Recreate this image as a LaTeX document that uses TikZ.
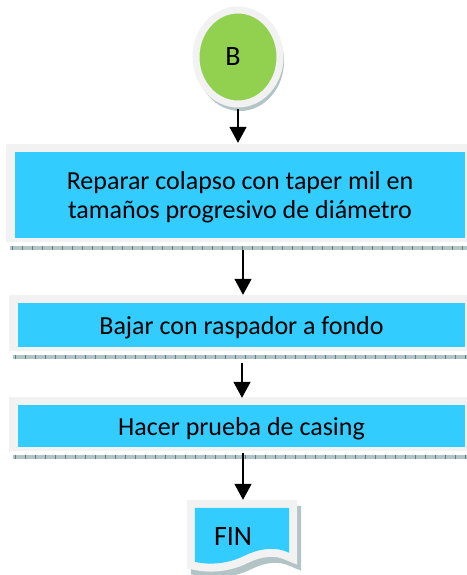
\documentclass[tikz,border=0pt]{standalone}
\usepackage{fontspec}
\setmainfont{Carlito}
\usepackage{tikz}
\usetikzlibrary{positioning}
\usetikzlibrary{arrows.meta,shapes}
\usetikzlibrary{calc,backgrounds}

\definecolor{azul}{RGB}{51,204,255}
\definecolor{verde}{RGB}{146,208,80}
\definecolor{grisclaro}{RGB}{242,242,242}
\definecolor{tramado}{RGB}{178,196,198}

\begin{document}
\begin{tikzpicture}[x=1pt,y=-1pt, auto,
    paso/.style={fill=azul, inner sep=0pt, align=center, text depth=0pt, font=\fontsize{26}{29}\selectfont},
    inicio/.style={ellipse, fill=verde, draw=grisclaro, line width=7pt, minimum width=84, minimum height=94, inner sep=0pt, font=\fontsize{28}{29}\selectfont},
    hoja/.style={inner sep=0pt, minimum width=94, minimum height=58, text depth=0pt, font=\fontsize{28}{29}\selectfont},
    marco/.style={fill=grisclaro},
    sombra/.style={fill=tramado},
    raya/.style={draw=gray!70!teal, line width=0.5pt},
    flecha/.style={-{Triangle[width=17pt,length=16pt]}, line width=1.5pt}]

 \useasboundingbox (0,0) rectangle (466,575);

	%start
 \node[inicio] (B) at (238,57) {\hspace*{-10pt}B};

	%steps
    \foreach \x/\y/\w/\h/\name/\txt in {240/195/450/86/b1/{Reparar colapso con taper mil en\\tamaños progresivo de diámetro},
                                     241.5/325/447/44/b2/{Bajar con raspador a fondo},
                                     241.5/426/447/42/b3/{Hacer prueba de casing}}{
         \node[paso, minimum width=\w, minimum height=\h] (\name) at (\x,\y) {\txt};
    }

	%end
 \node[hoja] (fin) at (242,537) {\hspace*{-18pt}FIN};
 \def\docu{(fin.north west) -- (fin.north east) -- ($(fin.north east)+(0,45)$)
      .. controls ($(fin.north east)+(-14,38)$) and ($(fin.north east)+(-31,41)$) .. ($(fin.north east)+(-45,48)$)
      .. controls ($(fin.north east)+(-59,55)$) and ($(fin.north east)+(-77,58)$) .. ($(fin.north west)+(0,54)$) -- cycle};

	%frames and shadows
 \begin{scope}[on background layer]
    \fill[sombra] ($(B)+(2,4)$) ellipse [x radius=44, y radius=50];
    \foreach \name in {b1,b2,b3}{
         \fill[marco] ($(\name.north west)+(-9,-8)$) rectangle ($(\name.south east)+(6,4)$);
         \fill[sombra] ($(\name.south west)+(-5,8)$) rectangle ($(\name.south east)+(6,12)$);
         \foreach \t in {0,10,...,450}
              \draw[raya] ($(\name.south west)+(\t-3,8)$) -- ++(0,4);
    }
    \begin{scope}[transform canvas={shift={(4pt,-6pt)}}]
         \filldraw[sombra, draw=tramado, line width=16pt] \docu;
    \end{scope}
    \draw[draw=grisclaro, line width=16pt] \docu;
    \fill[azul] \docu;
 \end{scope}

	%arrows
 \draw[flecha, shorten <=2pt, shorten >=9pt] (B.south) -- (B.south |- b1.north);
 \draw[flecha, shorten <=12pt, shorten >=8pt] ([xshift=3pt]b1.south) -- ([xshift=3pt]b1.south |- b2.north);
 \draw[flecha, shorten <=16pt, shorten >=7pt] ([xshift=0.5pt]b2.south) -- ([xshift=0.5pt]b2.south |- b3.north);
 \draw[flecha, shorten <=6pt, shorten >=8pt] ([xshift=1.5pt]b3.south) -- ([xshift=1.5pt]b3.south |- fin.north);

\end{tikzpicture}
\end{document}
